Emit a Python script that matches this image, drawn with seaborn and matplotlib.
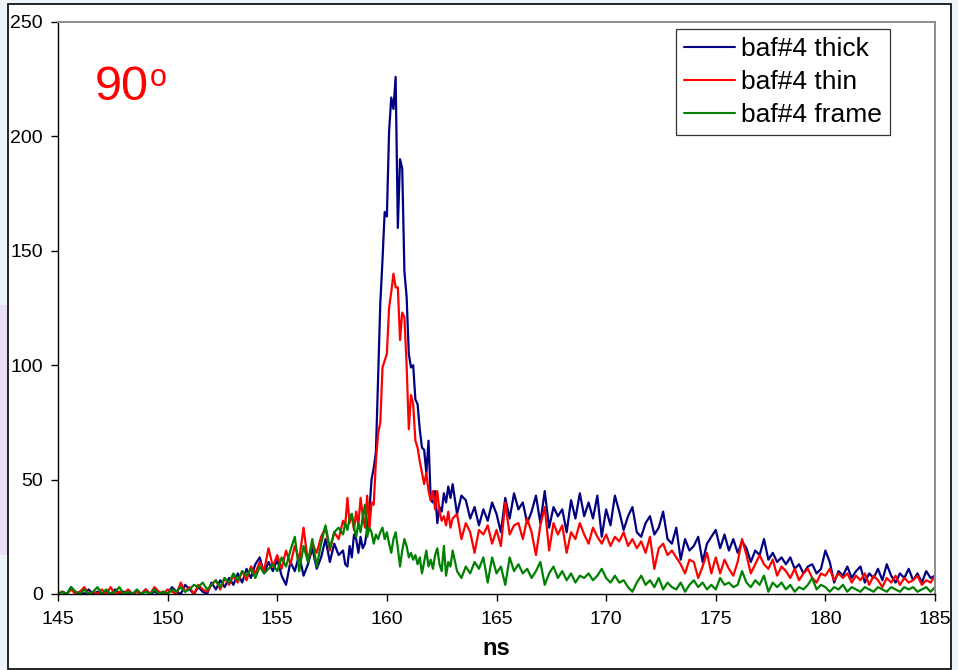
import numpy as np
import pandas as pd
import matplotlib
matplotlib.use("Agg")
import matplotlib.pyplot as plt
import seaborn as sns
from matplotlib.patches import Rectangle

# Time bins (ns): coarse before and after the prompt peak, fine across it
ns_early = np.round(np.arange(145.0, 157.81, 0.2), 1)
ns_peak = np.round(np.arange(158.0, 162.91, 0.1), 1)
ns_late = np.round(np.arange(163.0, 185.01, 0.2), 1)

thick_early = [0, 1, 0, 3, 0, 1, 0, 2, 0, 1, 0, 1, 0, 2, 0, 1, 0, 0, 1, 0, 2, 0, 1, 0, 1,
               0, 3, 1, 0, 4, 2, 0, 3, 1, 0, 5, 2, 6, 3, 7, 4, 9, 5, 11, 7, 13, 16, 9, 14, 10,
               15, 8, 4, 14, 10, 17, 8, 13, 20, 11, 16, 24, 14, 22, 17]
thick_peak = [19, 13, 12, 21, 16, 26, 24, 18, 25, 20,
              22, 28, 36, 50, 55, 62, 95, 127, 146, 167,
              165, 202, 217, 212, 226, 160, 190, 186, 141, 130,
              105, 99, 100, 85, 83, 72, 64, 63, 53, 67,
              41, 40, 45, 31, 38, 36, 44, 40, 47, 42]
thick_late = [48, 35, 43, 41, 33, 38, 30, 37, 32, 40,
              35, 27, 42, 33, 44, 37, 40, 31, 36, 43,
              31, 45, 29, 38, 34, 37, 27, 41, 33, 44,
              34, 40, 33, 43, 25, 37, 30, 43, 36, 28,
              34, 38, 27, 25, 31, 34, 26, 29, 36, 24,
              22, 29, 15, 24, 19, 21, 25, 14, 22, 25,
              28, 20, 26, 19, 24, 18, 23, 20, 14, 19,
              17, 24, 15, 18, 14, 16, 13, 16, 11, 13,
              9, 12, 13, 9, 11, 19, 14, 5, 10, 8,
              12, 7, 10, 12, 5, 9, 7, 11, 6, 13,
              8, 5, 9, 7, 11, 6, 9, 5, 10, 7, 8]

thin_early = [0, 1, 0, 2, 0, 1, 3, 0, 1, 0, 2, 0, 3, 0, 1, 0, 2, 0, 1, 0, 2, 0, 3, 1, 0,
              2, 1, 0, 5, 1, 3, 0, 4, 2, 1, 4, 6, 2, 7, 4, 8, 5, 10, 6, 12, 9, 14, 10, 20, 12,
              17, 11, 19, 13, 21, 15, 29, 14, 22, 18, 25, 29, 19, 27, 24]
thin_peak = [32, 30, 42, 31, 35, 28, 36, 30, 42, 34,
             29, 43, 28, 40, 39, 58, 70, 75, 99, 102,
             105, 125, 132, 140, 134, 134, 111, 123, 121, 100,
             72, 87, 83, 67, 64, 58, 53, 48, 53, 45,
             41, 45, 37, 45, 36, 32, 34, 30, 36, 29]
thin_late = [33, 35, 24, 31, 27, 18, 28, 26, 30, 22,
             28, 21, 40, 26, 30, 31, 24, 33, 27, 17,
             30, 38, 19, 31, 26, 30, 18, 27, 24, 31,
             26, 22, 29, 25, 22, 26, 21, 25, 23, 27,
             21, 24, 20, 23, 18, 25, 11, 20, 22, 17,
             19, 16, 13, 9, 15, 14, 7, 12, 18, 9,
             16, 9, 15, 11, 8, 14, 24, 17, 9, 13,
             17, 13, 11, 15, 8, 12, 10, 7, 11, 6,
             9, 11, 7, 5, 9, 8, 11, 6, 9, 7,
             9, 5, 8, 6, 9, 4, 8, 6, 3, 7,
             5, 8, 4, 7, 5, 6, 8, 4, 6, 5, 8]

frame_early = [0, 1, 0, 3, 1, 0, 2, 0, 1, 3, 0, 2, 0, 1, 3, 0, 1, 0, 2, 0, 1, 0, 2, 0, 1,
               0, 2, 1, 3, 1, 2, 4, 3, 5, 2, 4, 6, 3, 7, 5, 9, 6, 10, 8, 11, 7, 12, 9, 11, 13,
               10, 16, 12, 19, 25, 10, 21, 14, 24, 12, 22, 30, 20, 27, 29]
frame_peak = [26, 31, 28, 33, 35, 29, 25, 31, 27, 34,
              39, 25, 29, 27, 22, 26, 24, 27, 29, 24,
              27, 22, 18, 24, 27, 20, 12, 19, 24, 21,
              16, 18, 15, 17, 13, 16, 9, 14, 19, 12,
              15, 11, 17, 20, 13, 10, 21, 8, 14, 12]
frame_late = [19, 10, 7, 12, 9, 14, 11, 16, 5, 16,
              9, 12, 4, 16, 10, 13, 9, 11, 7, 10,
              14, 4, 9, 12, 7, 10, 6, 9, 5, 8,
              7, 9, 6, 8, 11, 7, 5, 8, 5, 6,
              3, 1, 5, 8, 4, 6, 3, 7, 2, 5,
              3, 2, 5, 1, 4, 6, 3, 5, 2, 4,
              2, 7, 4, 5, 3, 4, 10, 5, 3, 6,
              4, 8, 1, 5, 3, 5, 2, 4, 1, 3,
              2, 4, 7, 2, 4, 3, 1, 3, 2, 4,
              1, 3, 2, 1, 3, 2, 1, 3, 2, 1,
              3, 2, 1, 3, 2, 3, 1, 2, 3, 1, 3]

series_names = ["baf#4 thick", "baf#4 thin", "baf#4 frame"]
series_colors = ["#000080", "#FF0000", "#008000"]

ns_all = np.concatenate([ns_early, ns_peak, ns_late])
frames = []
for name, vals in zip(series_names,
                      [thick_early + thick_peak + thick_late,
                       thin_early + thin_peak + thin_late,
                       frame_early + frame_peak + frame_late]):
    frames.append(pd.DataFrame({"ns": ns_all, "counts": vals, "series": name}))
df = pd.concat(frames, ignore_index=True)

sns.set_theme(style="white")
plt.rcParams["font.family"] = ["Liberation Sans", "DejaVu Sans"]
plt.rcParams["text.color"] = "black"

W, H = 958, 670
fig = plt.figure(figsize=(W / 100, H / 100), dpi=100)
fig.patch.set_facecolor("#EEF3FA")
fig.patches.append(Rectangle((0, 115 / H), 8 / W, 250 / H, transform=fig.transFigure,
                             facecolor="#EADFF8", edgecolor="none", zorder=-3))
fig.patches.append(Rectangle((8 / W, 1 / H), 943 / W, 665 / H, transform=fig.transFigure,
                             facecolor="white", edgecolor="black", linewidth=1.2, zorder=-2))

ax = fig.add_axes([58 / W, (H - 594) / H, 877 / W, 572 / H])
ax.set_zorder(1)
ax.set_facecolor("white")

sns.lineplot(data=df, x="ns", y="counts", hue="series", hue_order=series_names,
             palette=series_colors, estimator=None, linewidth=1.6, ax=ax)

ax.set_xlim(145, 185)
ax.set_ylim(0, 250)
ax.set_xticks(np.arange(145, 186, 5))
ax.set_yticks(np.arange(0, 251, 50))
ax.set_xlabel("ns", fontsize=17, fontweight="bold", labelpad=7, color="black")
ax.set_ylabel("")
ax.tick_params(axis="both", direction="out", length=5, width=1, color="black",
               labelsize=14, labelcolor="black")
ax.tick_params(axis="y", pad=6)
ax.tick_params(axis="x", pad=7)
ax.tick_params(bottom=True, left=True)

for side in ("left", "bottom"):
    ax.spines[side].set_color("black")
    ax.spines[side].set_linewidth(1.0)
for side in ("top", "right"):
    ax.spines[side].set_color("#8C8C8C")
    ax.spines[side].set_linewidth(1.4)

handles, labels = ax.get_legend_handles_labels()
leg = ax.legend(handles, labels, loc="upper left",
                bbox_to_anchor=(676 / W, 1 - 29 / H), bbox_transform=fig.transFigure,
                borderaxespad=0, fontsize=19, frameon=True, fancybox=False,
                edgecolor="black", handlelength=1.95, handletextpad=0.22,
                labelspacing=0.35, borderpad=0.3, title=None, labelcolor="black")
leg.get_frame().set_linewidth(0.9)
for line in leg.get_lines():
    line.set_linewidth(1.5)

# Angle tag in the upper left of the plot
fig.text(95 / W, 1 - 100 / H, "90", color="#FF0000", fontsize=35, ha="left", va="baseline")
fig.text(150 / W, 1 - 86 / H, "o", color="#FF0000", fontsize=22, ha="left", va="baseline")

fig.savefig("out.png", dpi=100, facecolor=fig.get_facecolor())
